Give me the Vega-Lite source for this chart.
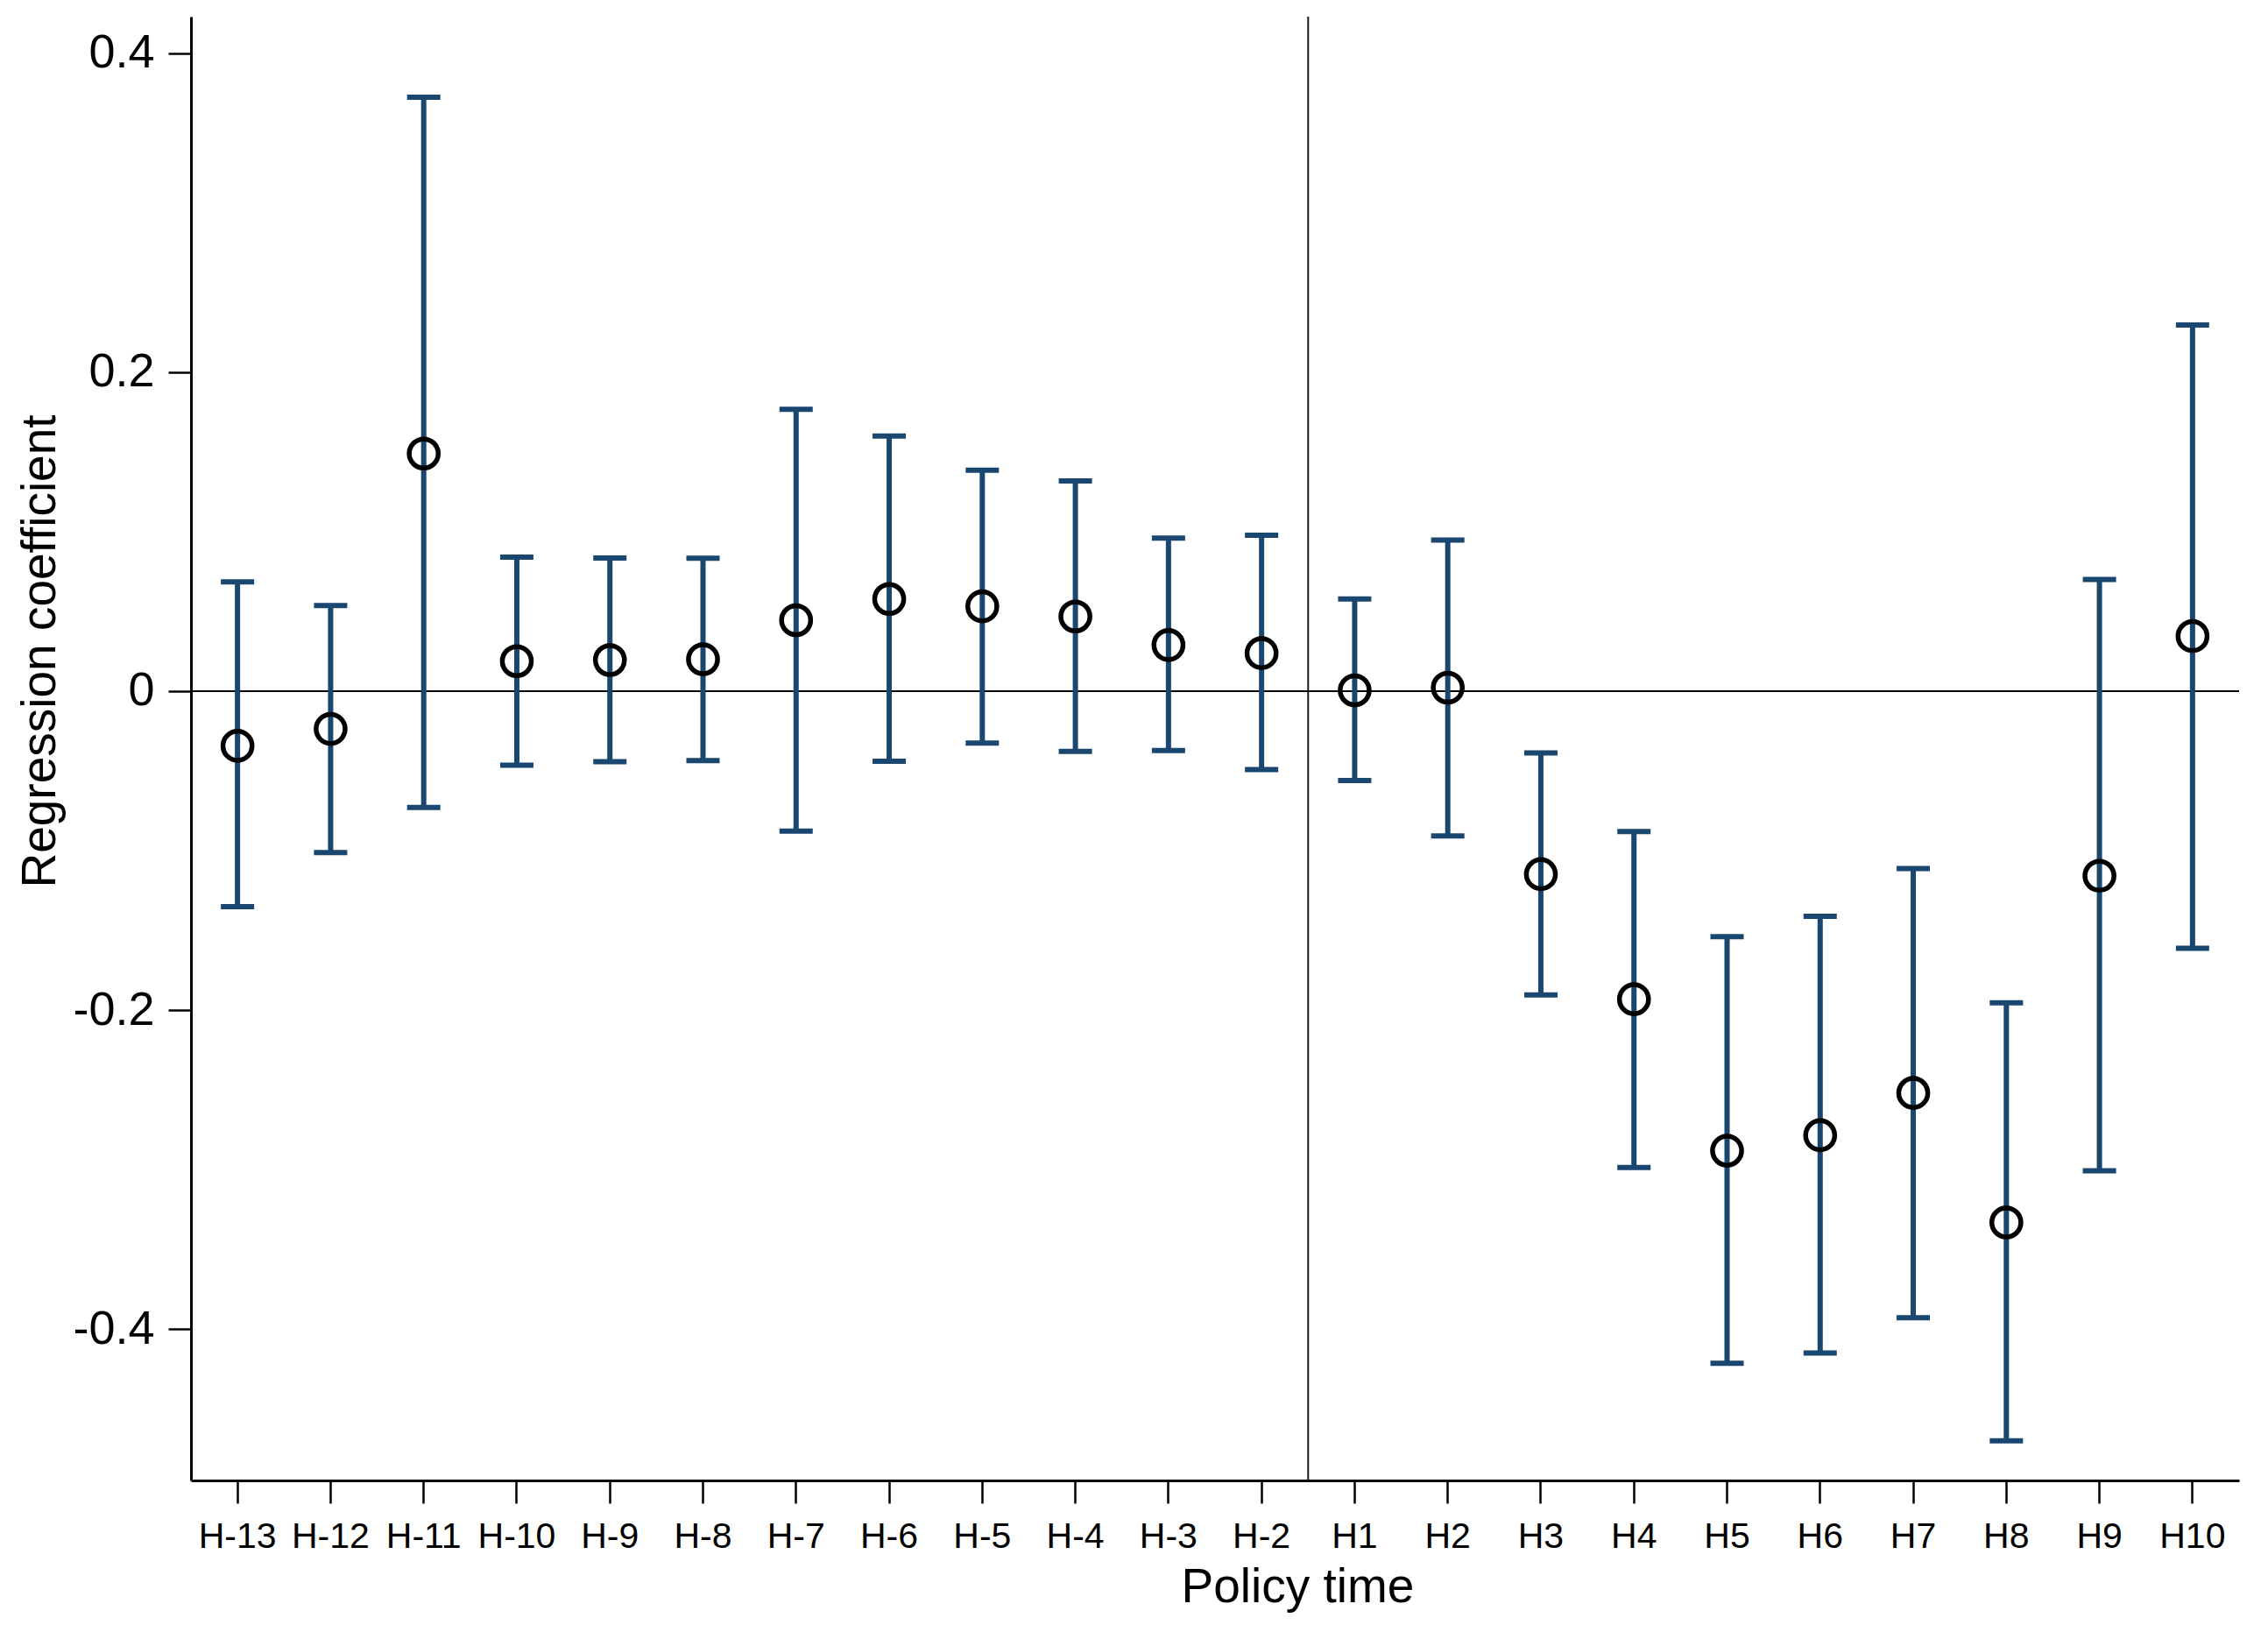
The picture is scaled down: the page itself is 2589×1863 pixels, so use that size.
{
  "$schema": "https://vega.github.io/schema/vega-lite/v6.json",
  "width": 2338,
  "height": 1671,
  "autosize": {"type": "none"},
  "padding": {"left": 218, "top": 19, "right": 33, "bottom": 173},
  "background": "white",
  "config": {"view": {"stroke": null}, "font": "Liberation Sans"},
  "data": {
    "values": [
      {"period": "H-13", "coef": -0.0343, "lo": -0.1352, "hi": 0.0685},
      {"period": "H-12", "coef": -0.0237, "lo": -0.1013, "hi": 0.0537},
      {"period": "H-11", "coef": 0.1490, "lo": -0.0730, "hi": 0.3725},
      {"period": "H-10", "coef": 0.0188, "lo": -0.0465, "hi": 0.0840},
      {"period": "H-9", "coef": 0.0195, "lo": -0.0442, "hi": 0.0835},
      {"period": "H-8", "coef": 0.0200, "lo": -0.0436, "hi": 0.0834},
      {"period": "H-7", "coef": 0.0445, "lo": -0.0878, "hi": 0.1768},
      {"period": "H-6", "coef": 0.0578, "lo": -0.0440, "hi": 0.1600},
      {"period": "H-5", "coef": 0.0532, "lo": -0.0325, "hi": 0.1385},
      {"period": "H-4", "coef": 0.0468, "lo": -0.0378, "hi": 0.1318},
      {"period": "H-3", "coef": 0.0289, "lo": -0.0372, "hi": 0.0960},
      {"period": "H-2", "coef": 0.0238, "lo": -0.0492, "hi": 0.0978},
      {"period": "H1", "coef": 0.0005, "lo": -0.0560, "hi": 0.0578},
      {"period": "H2", "coef": 0.0022, "lo": -0.0908, "hi": 0.0948},
      {"period": "H3", "coef": -0.1148, "lo": -0.1905, "hi": -0.0388},
      {"period": "H4", "coef": -0.1932, "lo": -0.2988, "hi": -0.0880},
      {"period": "H5", "coef": -0.2882, "lo": -0.4215, "hi": -0.1540},
      {"period": "H6", "coef": -0.2785, "lo": -0.4150, "hi": -0.1412},
      {"period": "H7", "coef": -0.2520, "lo": -0.3930, "hi": -0.1112},
      {"period": "H8", "coef": -0.3332, "lo": -0.4702, "hi": -0.1955},
      {"period": "H9", "coef": -0.1158, "lo": -0.3008, "hi": 0.0700},
      {"period": "H10", "coef": 0.0345, "lo": -0.1612, "hi": 0.2296}
    ]
  },
  "layer": [
    {
      "data": {"values": [{"ref": 0}]},
      "mark": {"type": "rule", "color": "#000000", "strokeWidth": 2},
      "encoding": {
        "y": {
          "field": "ref",
          "type": "quantitative",
          "title": "Regression coefficient",
          "scale": {"domain": [-0.495, 0.423], "nice": false, "zero": false},
          "axis": {
            "values": [-0.4, -0.2, 0, 0.2, 0.4],
            "labelExpr": "datum.value == 0 ? '0' : '' + datum.value",
            "grid": false,
            "domainColor": "#000000",
            "domainWidth": 3,
            "tickColor": "#000000",
            "tickWidth": 2.5,
            "tickSize": 26,
            "labelFontSize": 54,
            "labelColor": "#000000",
            "labelPadding": 16,
            "titleFontSize": 55,
            "titleFontWeight": "normal",
            "titleColor": "#000000",
            "titleAngle": 270,
            "titleAlign": "center",
            "titleBaseline": "alphabetic",
            "titleX": -156,
            "titleY": 724
          }
        }
      }
    },
    {
      "data": {"values": [{"period": "H1"}]},
      "mark": {"type": "rule", "color": "#1a1a1a", "strokeWidth": 2},
      "encoding": {
        "x": {
          "field": "period",
          "type": "ordinal",
          "bandPosition": 0,
          "title": "Policy time",
          "scale": {
            "domain": ["H-13", "H-12", "H-11", "H-10", "H-9", "H-8", "H-7", "H-6", "H-5", "H-4", "H-3", "H-2", "H1", "H2", "H3", "H4", "H5", "H6", "H7", "H8", "H9", "H10"],
            "paddingInner": 0,
            "paddingOuter": 0
          },
          "axis": {
            "labelAngle": 0,
            "grid": false,
            "domainColor": "#000000",
            "domainWidth": 3,
            "tickColor": "#000000",
            "tickWidth": 2.5,
            "tickSize": 26,
            "labelFontSize": 41,
            "labelColor": "#000000",
            "labelPadding": 18,
            "titleFontSize": 55,
            "titleFontWeight": "normal",
            "titleColor": "#000000",
            "titleAlign": "center",
            "titleBaseline": "alphabetic",
            "titleX": 1263,
            "titleY": 138
          }
        }
      }
    },
    {
      "mark": {"type": "rule", "color": "#1a476f", "strokeWidth": 6},
      "encoding": {
        "x": {"field": "period", "type": "ordinal", "title": "Policy time"},
        "y": {"field": "lo", "type": "quantitative", "title": "Regression coefficient"},
        "y2": {"field": "hi"}
      }
    },
    {
      "mark": {"type": "tick", "color": "#1a476f", "thickness": 6, "size": 38, "opacity": 1},
      "encoding": {
        "x": {"field": "period", "type": "ordinal", "title": "Policy time"},
        "y": {"field": "hi", "type": "quantitative", "title": "Regression coefficient"}
      }
    },
    {
      "mark": {"type": "tick", "color": "#1a476f", "thickness": 6, "size": 38, "opacity": 1},
      "encoding": {
        "x": {"field": "period", "type": "ordinal", "title": "Policy time"},
        "y": {"field": "lo", "type": "quantitative", "title": "Regression coefficient"}
      }
    },
    {
      "mark": {"type": "point", "shape": "circle", "filled": false, "stroke": "#000000", "strokeWidth": 5.5, "size": 1100, "opacity": 1},
      "encoding": {
        "x": {"field": "period", "type": "ordinal", "title": "Policy time"},
        "y": {"field": "coef", "type": "quantitative", "title": "Regression coefficient"}
      }
    }
  ]
}
